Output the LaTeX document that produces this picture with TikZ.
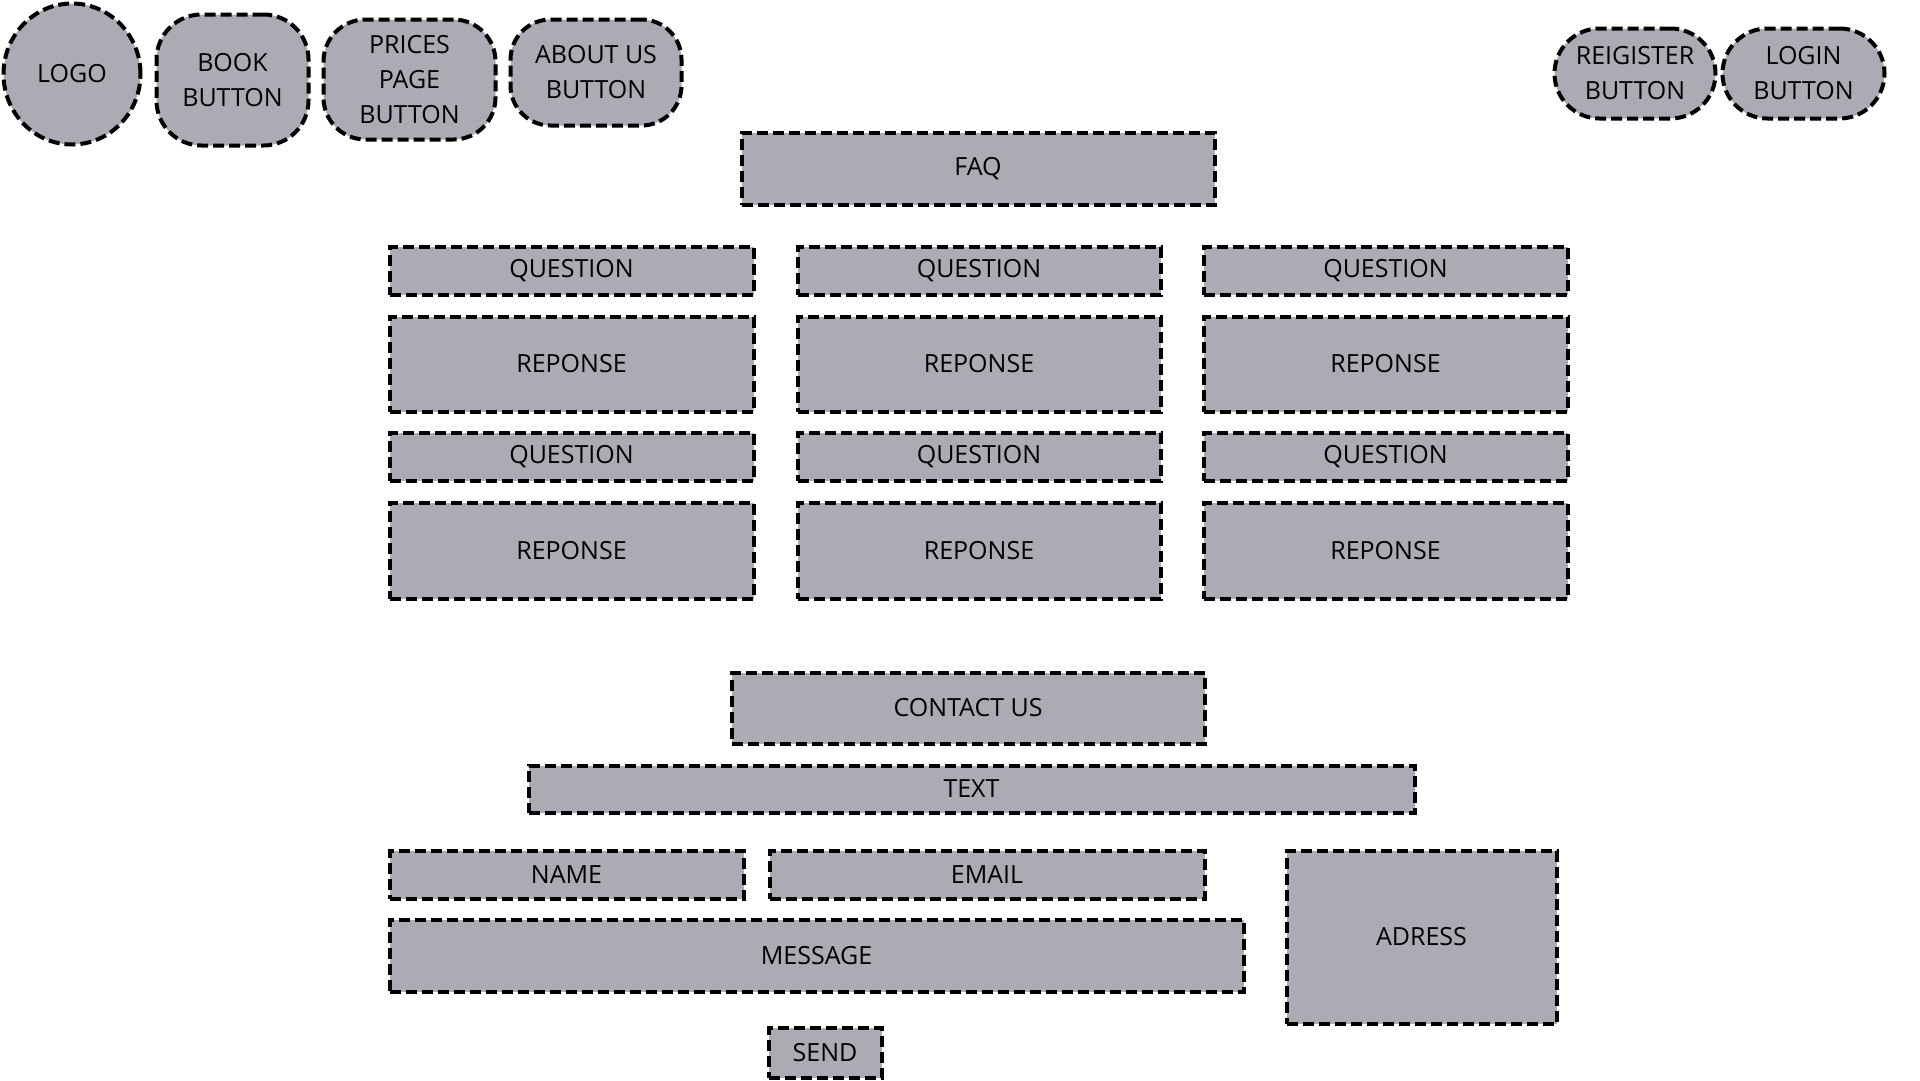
\documentclass[tikz,border=0pt]{standalone}
\usepackage{fontspec}
\setmainfont{Open Sans}
\usetikzlibrary{shapes.geometric}
\definecolor{boxfill}{RGB}{172,171,179}
\tikzset{
  base/.style={draw=black, fill=boxfill, line width=4pt, dash pattern=on 11pt off 5pt,
    inner sep=0pt, outer sep=0pt, align=center, font=\fontsize{25}{35}\selectfont, text=black},
  box/.style={base, rectangle},
  pill/.style={base, rectangle, rounded corners=#1},
  oval/.style={base, ellipse},
}
\newcommand{\bx}[6]{\node[box, minimum width=#3pt, minimum height=#4pt] (#5) at (#1,#2) {#6};}
\begin{document}
\begin{tikzpicture}[x=1pt,y=-1pt]
\useasboundingbox (0,0) rectangle (1920,1080);
% top navigation
\node[oval, minimum width=137pt, minimum height=141pt] (logo) at (72,74) {LOGO};
\node[pill=45pt, minimum width=152pt, minimum height=131pt] (book) at (232.5,80) {BOOK\\BUTTON};
\node[pill=42pt, minimum width=172pt, minimum height=120pt] (prices) at (409.5,79.5) {PRICES\\PAGE\\BUTTON};
\node[pill=40pt, minimum width=171pt, minimum height=106pt] (about) at (596,72.5) {ABOUT US\\BUTTON};
\node[pill=45pt, minimum width=161pt, minimum height=90pt] (register) at (1635,73.5) {REIGISTER\\BUTTON};
\node[pill=45pt, minimum width=162pt, minimum height=90pt] (login) at (1803.5,73.5) {LOGIN\\BUTTON};
% FAQ
\bx{978}{168.5}{473}{72}{faq}{FAQ}
\bx{571.5}{270.5}{364}{48}{qa}{QUESTION}
\bx{979}{270.5}{363}{48}{qb}{QUESTION}
\bx{1385.5}{270.5}{364}{48}{qc}{QUESTION}
\bx{571.5}{364}{364}{95}{ra}{REPONSE}
\bx{979}{364}{363}{95}{rb}{REPONSE}
\bx{1385.5}{364}{364}{95}{rc}{REPONSE}
\bx{571.5}{456.5}{364}{48}{qd}{QUESTION}
\bx{979}{456.5}{363}{48}{qe}{QUESTION}
\bx{1385.5}{456.5}{364}{48}{qf}{QUESTION}
\bx{571.5}{550.5}{364}{96}{rd}{REPONSE}
\bx{979}{550.5}{363}{96}{re}{REPONSE}
\bx{1385.5}{550.5}{364}{96}{rf}{REPONSE}
% contact
\bx{968}{708}{473}{71}{contact}{CONTACT US}
\bx{971.5}{789}{886}{47}{text}{TEXT}
\bx{566.5}{874.5}{354}{48}{name}{NAME}
\bx{987}{874.5}{435}{48}{email}{EMAIL}
\bx{816.5}{955.5}{854}{72}{message}{MESSAGE}
\bx{1421.5}{937}{270}{173}{adress}{ADRESS}
\bx{825}{1052.5}{113}{50}{send}{SEND}
\end{tikzpicture}
\end{document}
